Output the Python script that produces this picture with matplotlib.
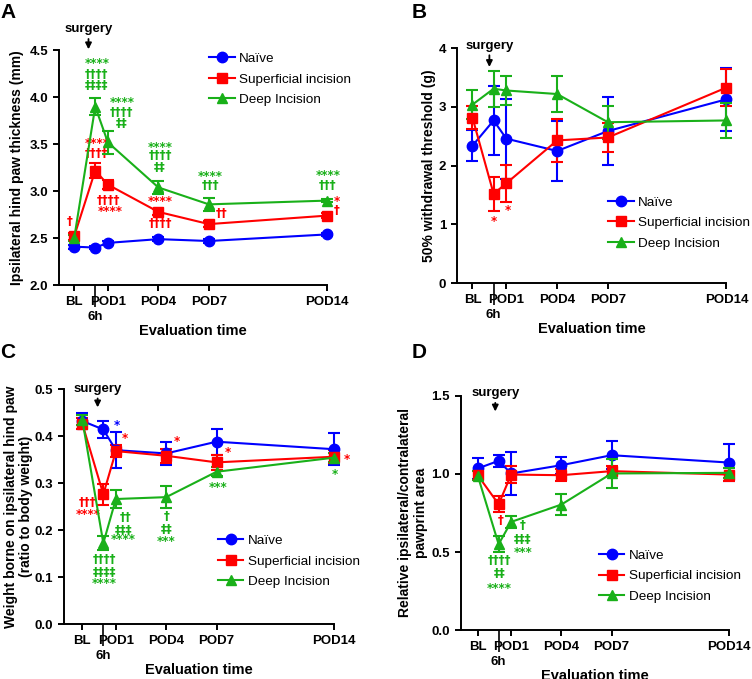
import matplotlib
matplotlib.use("Agg")
import matplotlib.pyplot as plt
import numpy as np

plt.rcParams["font.family"] = ["Liberation Sans", "DejaVu Sans"]

BLUE = "#0000FF"
RED = "#FF0000"
GREEN = "#19B019"

# ---------------------------------------------------------------------------
# Data (mean, SEM)
# ---------------------------------------------------------------------------
time_pos = [-1, 0.25, 1, 4, 7, 14]
major_labels = ["BL", "POD1", "POD4", "POD7", "POD14"]
major_pos = [-1, 1, 4, 7, 14]
series_names = ["Naïve", "Superficial incision", "Deep Incision"]

# A: paw thickness (mm)
a_naive = [2.41, 2.40, 2.45, 2.49, 2.47, 2.54]
a_naive_sem = [0.02, 0.02, 0.02, 0.02, 0.02, 0.02]
a_sup = [2.52, 3.22, 3.07, 2.78, 2.65, 2.74]
a_sup_sem = [0.04, 0.08, 0.05, 0.03, 0.03, 0.03]
a_deep = [2.50, 3.90, 3.52, 3.04, 2.86, 2.90]
a_deep_sem = [0.03, 0.09, 0.12, 0.07, 0.07, 0.02]

# B: 50% withdrawal threshold (g)
b_naive = [2.34, 2.77, 2.46, 2.25, 2.59, 3.13]
b_naive_sem = [0.26, 0.58, 0.68, 0.51, 0.58, 0.54]
b_sup = [2.82, 1.52, 1.70, 2.43, 2.48, 3.33]
b_sup_sem = [0.20, 0.29, 0.31, 0.37, 0.24, 0.31]
b_deep = [3.04, 3.31, 3.28, 3.22, 2.74, 2.77]
b_deep_sem = [0.24, 0.31, 0.24, 0.30, 0.28, 0.30]

# C: weight bearing (ratio to body weight)
c_naive = [0.432, 0.414, 0.370, 0.363, 0.388, 0.372]
c_naive_sem = [0.017, 0.019, 0.038, 0.024, 0.028, 0.034]
c_sup = [0.426, 0.276, 0.368, 0.358, 0.344, 0.356]
c_sup_sem = [0.012, 0.022, 0.013, 0.015, 0.016, 0.014]
c_deep = [0.434, 0.172, 0.266, 0.270, 0.324, 0.354]
c_deep_sem = [0.010, 0.015, 0.019, 0.024, 0.010, 0.010]

# D: relative pawprint area
d_naive = [1.035, 1.084, 1.003, 1.056, 1.120, 1.073]
d_naive_sem = [0.07, 0.04, 0.14, 0.055, 0.09, 0.12]
d_sup = [0.992, 0.806, 0.996, 0.992, 1.018, 0.996]
d_sup_sem = [0.03, 0.05, 0.055, 0.04, 0.03, 0.04]
d_deep = [0.99, 0.550, 0.693, 0.804, 1.003, 1.007]
d_deep_sem = [0.03, 0.05, 0.04, 0.065, 0.09, 0.03]

# significance marks: (x, y, text, colour)
a_marks = [
    (0.35, 4.36, "****", GREEN), (0.35, 4.24, "††††", GREEN), (0.35, 4.13, "‡‡‡‡", GREEN),
    (1.83, 3.94, "****", GREEN), (1.83, 3.84, "††††", GREEN), (1.83, 3.72, "‡‡", GREEN),
    (0.35, 3.51, "****", RED), (0.35, 3.40, "††††", RED),
    (1.05, 2.90, "††††", RED), (1.12, 2.78, "****", RED),
    (4.1, 3.47, "****", GREEN), (4.1, 3.38, "††††", GREEN), (4.1, 3.25, "‡‡", GREEN),
    (4.1, 2.89, "****", RED), (4.1, 2.66, "††††", RED),
    (7.08, 3.16, "****", GREEN), (7.08, 3.06, "†††", GREEN),
    (7.77, 2.76, "††", RED),
    (14.07, 3.17, "****", GREEN), (14.07, 3.06, "†††", GREEN),
    (14.6, 2.89, "*", RED), (14.6, 2.80, "†", RED),
    (-1.24, 2.68, "†", RED),
]
b_marks = [(0.29, 1.05, "*", RED), (1.08, 1.23, "*", RED)]
c_marks = [
    (1.04, 0.422, "*", BLUE), (1.56, 0.394, "*", RED), (4.63, 0.388, "*", RED),
    (7.65, 0.365, "*", RED), (14.8, 0.351, "*", RED), (14.07, 0.319, "*", GREEN),
    (7.09, 0.291, "***", GREEN),
    (-0.71, 0.259, "†††", RED), (-0.65, 0.234, "****", RED),
    (1.6, 0.227, "††", GREEN), (1.44, 0.200, "‡‡‡", GREEN), (1.44, 0.179, "****", GREEN),
    (4.02, 0.229, "†", GREEN), (4.02, 0.202, "‡‡", GREEN), (4.02, 0.176, "***", GREEN),
    (0.31, 0.137, "††††", GREEN), (0.31, 0.110, "‡‡‡‡", GREEN), (0.31, 0.087, "****", GREEN),
]
d_marks = [
    (0.35, 0.704, "†", RED),
    (1.69, 0.668, "†", GREEN), (1.69, 0.582, "‡‡‡", GREEN), (1.69, 0.497, "***", GREEN),
    (0.31, 0.444, "††††", GREEN), (0.31, 0.363, "‡‡", GREEN), (0.31, 0.267, "****", GREEN),
]


def draw_panel(fig, rect, letter, letter_xy, series, ylim, yticks, yfmt, ylabel,
               ylabel_x, xleft, marks, surgery, legend_xy):
    ax = fig.add_axes(rect)
    styles = [(BLUE, "o", 7.5), (RED, "s", 7), (GREEN, "^", 7.5)]
    # draw deep first so naive ends on top
    for i in [2, 1, 0]:
        mean, sem = series[i]
        color, marker, ms = styles[i]
        ax.errorbar(time_pos, mean, yerr=sem, fmt="none", ecolor=color,
                    elinewidth=1.5, capsize=4, capthick=1.5, clip_on=False, zorder=2 + i)
        ax.plot(time_pos, mean, color=color, marker=marker, markersize=ms,
                linewidth=1.5, clip_on=False, zorder=3 + i, label=series_names[i])

    ax.set_xlim(xleft, 14)
    ax.set_ylim(*ylim)
    ax.set_yticks(yticks)
    ax.set_yticklabels([yfmt.format(v) for v in yticks])
    ax.set_xticks(major_pos)
    ax.set_xticklabels(major_labels)
    ax.set_xticks([0.25], minor=True)
    ax.set_xticklabels(["6h"], minor=True)

    for s in ["top", "right"]:
        ax.spines[s].set_visible(False)
    for s in ["left", "bottom"]:
        ax.spines[s].set_linewidth(1.4)
    ax.tick_params(which="major", direction="out", length=4, width=1.4, pad=4,
                   labelsize=9.5)
    ax.tick_params(axis="x", which="minor", direction="out", length=16, width=1.2,
                   pad=2.5, labelsize=9.5)
    for lab in ax.get_xticklabels(which="both") + ax.get_yticklabels():
        lab.set_fontweight("bold")

    ax.set_ylabel(ylabel, fontsize=10, fontweight="bold", linespacing=1.1)
    ax.yaxis.set_label_coords(ylabel_x, 0.5)
    ax.set_xlabel("Evaluation time", fontsize=10.5, fontweight="bold", labelpad=1)

    for x, y, t, c in marks:
        ax.text(x, y, t, color=c, fontsize=8.5, fontweight="bold", ha="center",
                va="center", family=["DejaVu Sans"], clip_on=False)

    sx, sy_text, sy0, sy1 = surgery
    ax.text(sx, sy_text, "surgery", fontsize=9.5, fontweight="bold", ha="center",
            va="bottom", clip_on=False)
    ax.annotate("", xy=(sx, sy1), xytext=(sx, sy0), annotation_clip=False,
                arrowprops=dict(arrowstyle="-|>", color="black", lw=1.3,
                                mutation_scale=9, shrinkA=0, shrinkB=0))

    handles, labels = ax.get_legend_handles_labels()
    ax.legend(handles[::-1], labels[::-1], loc="upper left", bbox_to_anchor=legend_xy,
              frameon=False, fontsize=9.7, handlelength=1.9, handletextpad=0.35,
              labelspacing=0.6, borderpad=0, borderaxespad=0, numpoints=1)

    fig.text(letter_xy[0], letter_xy[1], letter, fontsize=15, fontweight="bold",
             ha="left", va="top")
    return ax


fig = plt.figure(figsize=(7.52, 6.79), dpi=100)

draw_panel(fig, [0.0785, 0.580, 0.356, 0.346], "A", (0.0, 0.995),
           [(a_naive, a_naive_sem), (a_sup, a_sup_sem), (a_deep, a_deep_sem)],
           (2.0, 4.5), [2.0, 2.5, 3.0, 3.5, 4.0, 4.5], "{:.1f}",
           "Ipsilateral hind paw thickness (mm)", -0.132, -1.9, a_marks,
           (-0.15, 4.66, 4.62, 4.51), (0.56, 0.99))

draw_panel(fig, [0.608, 0.583, 0.358, 0.346], "B", (0.548, 0.995),
           [(b_naive, b_naive_sem), (b_sup, b_sup_sem), (b_deep, b_deep_sem)],
           (0, 4), [0, 1, 2, 3, 4], "{:.0f}",
           "50% withdrawal threshold (g)", -0.08, -1.9, b_marks,
           (0.0, 3.93, 3.88, 3.68), (0.56, 0.37))

draw_panel(fig, [0.085, 0.081, 0.359, 0.346], "C", (0.0, 0.495),
           [(c_naive, c_naive_sem), (c_sup, c_sup_sem), (c_deep, c_deep_sem)],
           (0, 0.5), [0.0, 0.1, 0.2, 0.3, 0.4, 0.5], "{:.1f}",
           "Weight borne on ipsilateral hind paw\n(ratio to body weight)", -0.115, -2.1,
           c_marks, (-0.09, 0.487, 0.480, 0.461), (0.57, 0.38))

draw_panel(fig, [0.613, 0.072, 0.356, 0.345], "D", (0.548, 0.495),
           [(d_naive, d_naive_sem), (d_sup, d_sup_sem), (d_deep, d_deep_sem)],
           (0, 1.5), [0.0, 0.5, 1.0, 1.5], "{:.1f}",
           "Relative ipsilateral/contralateral\npawprint area", -0.125, -2.0, d_marks,
           (0.05, 1.48, 1.455, 1.40), (0.515, 0.345))

fig.savefig("out.png", dpi=100)
